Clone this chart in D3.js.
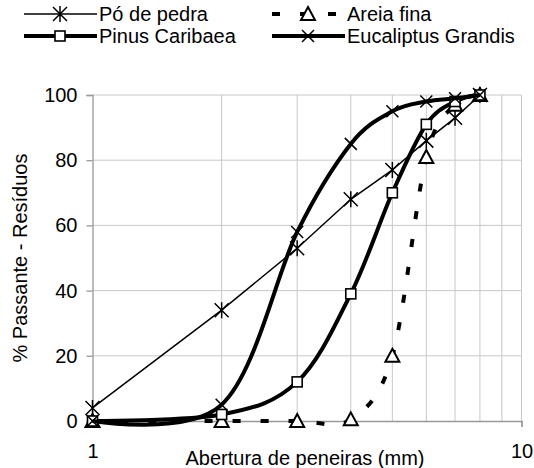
<!DOCTYPE html>
<html>
<head>
<meta charset="utf-8">
<script src="https://cdn.jsdelivr.net/npm/d3@7"></script>
<style>
  body { margin: 0; background: #fff; }
  text { font-family: "Liberation Sans", Arial, sans-serif; fill: #000; }
</style>
</head>
<body>
<script>
// data
var aberturas = [1, 2, 3, 4, 5, 6, 7, 8];
var poDePedra = [4, 34, 53, 68, 77, 86, 93, 100];
var areiaFina = [0, 0, 0, 0.5, 20, 81, 97, 100];
var pinusCaribaea = [0, 2, 12, 39, 70, 91, 98, 100];
var eucaliptusGrandis = [0, 5, 58, 85, 95, 98, 99, 100];
var yTicks = [0, 20, 40, 60, 80, 100];
var xGrid = [2, 3, 4, 5, 6, 7, 8, 9, 10];

// canvas and plot magic numbers
var w = 534;
var h = 468;
var plotLeft = 92.5, plotRight = 521.5, plotTop = 95, plotBottom = 421;
var fontSize = 20;

var svg = d3.select("body").append("svg")
            .attr("width", w)
            .attr("height", h);

var x = d3.scaleLog().domain([1, 10]).range([plotLeft, plotRight]);
var y = d3.scaleLinear().domain([0, 100]).range([plotBottom, plotTop]);

// gridlines
svg.selectAll("line.vgrid")
   .data(xGrid)
   .enter().append("line")
   .attr("x1", function(d) { return x(d); })
   .attr("x2", function(d) { return x(d); })
   .attr("y1", plotTop).attr("y2", plotBottom)
   .attr("stroke", "#c8c8c8").attr("stroke-width", 1);

svg.selectAll("line.hgrid")
   .data(yTicks.slice(1))
   .enter().append("line")
   .attr("x1", plotLeft).attr("x2", plotRight)
   .attr("y1", function(d) { return y(d); })
   .attr("y2", function(d) { return y(d); })
   .attr("stroke", "#c8c8c8").attr("stroke-width", 1);

// axes
var yAxis = d3.axisLeft(y).tickValues(yTicks).tickSize(6).tickPadding(9);
var gy = svg.append("g").attr("transform", "translate(" + plotLeft + ",0)").call(yAxis);
gy.selectAll("path, line").attr("stroke", "#999").attr("stroke-width", 1.3);
gy.selectAll("text").style("font-size", fontSize + "px").attr("fill", "#000")
  .attr("font-family", "Liberation Sans, Arial, sans-serif");

var xAxis = d3.axisBottom(x).tickValues([1, 10]).tickFormat(d3.format("d")).tickSize(6).tickPadding(17);
var gx = svg.append("g").attr("transform", "translate(0," + plotBottom + ")").call(xAxis);
gx.selectAll("path, line").attr("stroke", "#999").attr("stroke-width", 1.3);
gx.selectAll("text").style("font-size", fontSize + "px").attr("fill", "#000")
  .attr("font-family", "Liberation Sans, Arial, sans-serif");

// axis titles
svg.append("text")
   .attr("x", 305).attr("y", 465)
   .attr("text-anchor", "middle")
   .style("font-size", fontSize + "px")
   .text("Abertura de peneiras (mm)");

svg.append("text")
   .attr("transform", "translate(27," + ((plotTop + plotBottom) / 2) + ") rotate(-90)")
   .attr("text-anchor", "middle")
   .style("font-size", fontSize + "px")
   .text("% Passante - Resíduos");

// markers
var markers = {
  asterisk: function(g) {
    g.append("path").attr("d", "M-7,-7L7,7M-7,7L7,-7M0,-8L0,8")
     .attr("stroke", "#000").attr("stroke-width", 1.5).attr("fill", "none");
  },
  square: function(g) {
    g.append("rect").attr("x", -5).attr("y", -5).attr("width", 10).attr("height", 10)
     .attr("fill", "#fff").attr("stroke", "#000").attr("stroke-width", 1.6);
  },
  triangle: function(g) {
    g.append("path").attr("d", "M0,-7L7,6L-7,6Z")
     .attr("fill", "#fff").attr("stroke", "#000").attr("stroke-width", 2);
  },
  cross: function(g) {
    g.append("path").attr("d", "M-6,-6L6,6M-6,6L6,-6")
     .attr("stroke", "#000").attr("stroke-width", 1.5).attr("fill", "none");
  }
};

var series = [
  { name: "Pó de pedra", values: poDePedra, width: 1.5, dash: null, smooth: false, marker: "asterisk" },
  { name: "Areia fina", values: areiaFina, width: 4, dash: "8,20", smooth: true, marker: "triangle" },
  { name: "Pinus Caribaea", values: pinusCaribaea, width: 4, dash: null, smooth: true, marker: "square" },
  { name: "Eucaliptus Grandis", values: eucaliptusGrandis, width: 4, dash: null, smooth: true, marker: "cross" }
];

series.forEach(function(s) {
  var pts = aberturas.map(function(a, i) { return [a, s.values[i]]; });
  var line = d3.line()
               .x(function(d) { return x(d[0]); })
               .y(function(d) { return y(d[1]); })
               .curve(s.smooth ? d3.curveCardinal.tension(0) : d3.curveLinear);
  svg.append("path")
     .attr("d", line(pts))
     .attr("fill", "none")
     .attr("stroke", "#000")
     .attr("stroke-width", s.width)
     .attr("stroke-dasharray", s.dash);
  pts.forEach(function(p) {
    var g = svg.append("g").attr("transform", "translate(" + x(p[0]) + "," + y(p[1]) + ")");
    markers[s.marker](g);
  });
});

// legend, two columns
var legendPos = [
  { x: 24, y: 14 }, { x: 272, y: 14 },
  { x: 24, y: 36 }, { x: 272, y: 36 }
];
series.forEach(function(s, i) {
  var p = legendPos[i];
  var lg = svg.append("g").attr("transform", "translate(" + p.x + "," + p.y + ")");
  lg.append("line")
    .attr("x1", 0).attr("x2", 73).attr("y1", 0).attr("y2", 0)
    .attr("stroke", "#000")
    .attr("stroke-width", s.width)
    .attr("stroke-dasharray", s.dash);
  markers[s.marker](lg.append("g").attr("transform", "translate(36,0)"));
  lg.append("text")
    .attr("x", 75).attr("y", 0).attr("dy", "0.35em")
    .style("font-size", fontSize + "px")
    .text(s.name);
});
</script>
</body>
</html>
